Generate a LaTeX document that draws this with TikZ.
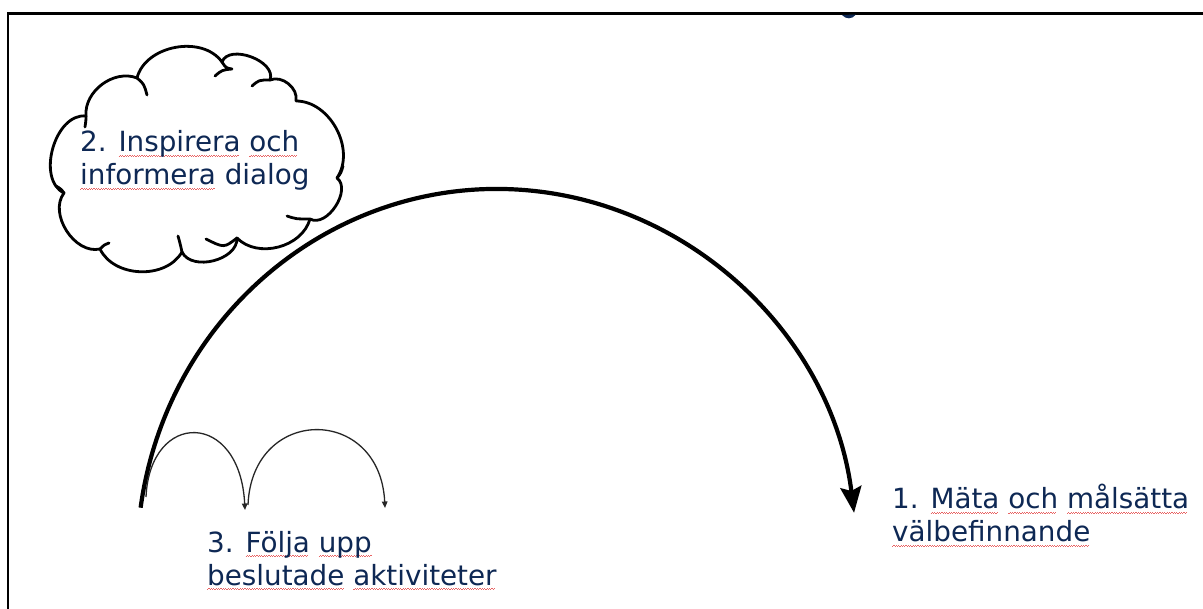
\documentclass[tikz,border=0pt]{standalone}
\usepackage{fontspec}
\setmainfont{DejaVu Sans}
\usetikzlibrary{arrows.meta}
\definecolor{navy}{RGB}{14,40,84}
\definecolor{spellred}{RGB}{232,100,100}
\newsavebox\splbox
\newcommand\spl[1]{\sbox\splbox{#1}\rlap{\color{spellred}\leaders\hbox{\rule[-4.4pt]{1.2pt}{0.8pt}\rule[-3.6pt]{1.2pt}{0.8pt}}\hskip\wd\splbox}\usebox\splbox}
\tikzset{
  lbl/.style={font=\fontsize{27.8}{33}\selectfont, text=navy, align=left, inner sep=0pt},
  cloudline/.style={line width=2.8pt, line cap=round, line join=round},
  bigarrow/.style={line width=4.2pt, -{Stealth[length=26pt,width=21pt,inset=4pt]}},
  smallarrow/.style={line width=1.3pt, draw=black!85, -{Triangle[length=6.5pt,width=5.5pt]}},
  framestyle/.style={line width=2.2pt}
}
\begin{document}
\begin{tikzpicture}[x=1pt,y=-1pt]
\useasboundingbox (0,0) rectangle (1203,609);
\fill[white] (0,0) rectangle (1203,609);
% frame
\draw[framestyle] (8,609) -- (8,13.5) -- (1203,13.5);
% title fragment
\fill[navy] (842,15) .. controls (846,19.5) and (852,19.5) .. (856,14.5) -- cycle;
% cloud junctions
\coordinate (J1) at (137,78);
\coordinate (J2) at (222,62);
\coordinate (J3) at (270,80);
\coordinate (J4) at (296,101);
\coordinate (J5) at (337,178);
\coordinate (J6) at (310,219);
\coordinate (J7) at (237,238);
\coordinate (J8) at (182,252);
\coordinate (J9) at (100,249);
\coordinate (J10) at (64,193);
\coordinate (J11) at (86,116);
% cloud outline
\draw[cloudline] (J1) to[bend left=65] (J2) to[bend left=90] (J3)
  to[bend left=62] (J4) to[bend left=62] (J5) to[bend left=85] (J6)
  to[bend left=60] (J7) to[bend left=78] (J8) to[bend left=62] (J9)
  to[bend left=70] (J10) to[bend left=80] (J11) to[bend left=58] (J1);
% cloud inner ticks
\draw[cloudline] (J1) .. controls (144,84) .. (147,95);
\draw[cloudline] (J2) .. controls (226,68) .. (232,69) .. controls (222,70) .. (215,76);
\draw[cloudline] (J3) .. controls (259,80) .. (252,86);
\draw[cloudline] (J11) .. controls (86,120) .. (85,127);
\draw[cloudline] (J10) .. controls (61,189) .. (56,186);
\draw[cloudline] (J9) .. controls (104,245) .. (109,243);
\draw[cloudline] (J8) .. controls (180,243) .. (178,236);
\draw[cloudline] (J7) .. controls (224,248) .. (206,239);
\draw[cloudline] (J6) .. controls (296,219) .. (287,216);
\draw[cloudline] (J5) .. controls (341,173) .. (343,166);
% cloud text
\node[lbl, anchor=base west] (t2) at (80,185) {2. \spl{Inspirera} \spl{och}\\\spl{informera} dialog};
% big arc
\coordinate (bigstart) at (140.6,507.7);
\draw[bigarrow] (bigstart) arc[start angle=171.9, end angle=7.3, x radius=360pt, y radius=371pt];
% small arcs
\coordinate (s1a) at (146,497);
\coordinate (s1b) at (245,510);
\coordinate (s2a) at (248,505);
\coordinate (s2b) at (385,508);
\draw[smallarrow] (s1a) .. controls (150,410) and (240,410) .. (s1b);
\draw[smallarrow] (s2a) .. controls (252,405) and (380,405) .. (s2b);
% labels
\node[lbl, anchor=base west] (t1) at (892,542) {1. \spl{Mäta} \spl{och} \spl{målsätta}\\\spl{välbefinnande}};
\node[lbl, anchor=base west] (t3) at (207,585) {3. \spl{Följa} \spl{upp}\\\spl{beslutade} \spl{aktiviteter}};
\end{tikzpicture}
\end{document}
